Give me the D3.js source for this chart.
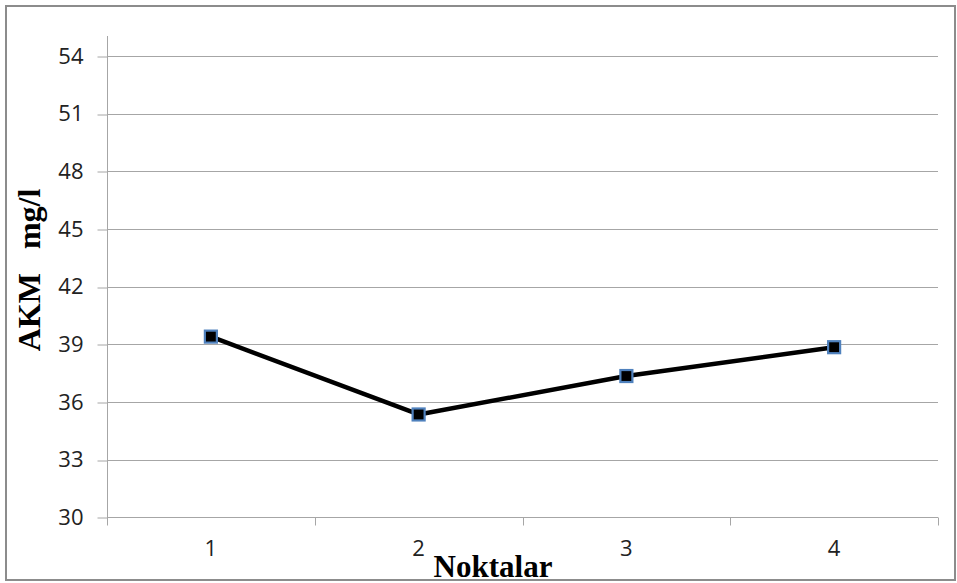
<!DOCTYPE html>
<html><head><meta charset="utf-8">
<script src="https://cdn.jsdelivr.net/npm/d3@7"></script>
<style>
html,body{margin:0;padding:0;background:#fff;}
svg{display:block;}
</style></head>
<body>
<script>
const categories = ["1", "2", "3", "4"];
const values = [39.4, 35.35, 37.35, 38.85];
const yTicks = [30, 33, 36, 39, 42, 45, 48, 51, 54];
const yTitle = "AKM   mg/l";
const xTitle = "Noktalar";

(function () {
const W = 957, H = 583;
const svg = d3.select("body").append("svg").attr("width", W).attr("height", H);

svg.append("rect").attr("x", 6).attr("y", 6).attr("width", W - 8).attr("height", H - 9)
  .attr("fill", "#fff").attr("stroke", "#8c8c8c").attr("stroke-width", 2);

const pLeft = 107, pRight = 938, pTop = 36, pBottom = 517.3;
const x = d3.scaleBand().domain(categories).range([pLeft, pRight]).padding(0);
const y = d3.scaleLinear().domain([30, 54]).range([pBottom, 56]);

// gridlines
svg.append("g").selectAll("line").data(yTicks.slice(1)).join("line")
  .attr("x1", pLeft).attr("x2", pRight)
  .attr("y1", d => Math.round(y(d)) + 0.5).attr("y2", d => Math.round(y(d)) + 0.5)
  .attr("stroke", "#a6a6a6").attr("stroke-width", 1);

// y axis
const yAxis = svg.append("g").attr("transform", `translate(${pLeft + 0.5},0)`)
  .call(d3.axisLeft(y).tickValues(yTicks).tickSize(10).tickPadding(14));
yAxis.select(".domain").remove();
yAxis.append("line").attr("x1", 0).attr("x2", 0).attr("y1", pTop).attr("y2", pBottom + 0.5)
  .attr("stroke", "#a6a6a6");
yAxis.selectAll(".tick line").attr("stroke", "#a6a6a6")
  .attr("transform", d => `translate(0,${Math.round(y(d)) + 0.5 - y(d)})`);
yAxis.selectAll("text").attr("font-family", "'Open Sans', sans-serif").attr("font-size", 22)
  .attr("fill", "#222");

// x axis
const xAxis = svg.append("g").attr("transform", `translate(0,${Math.round(pBottom) + 0.5})`)
  .call(d3.axisBottom(x).tickSize(0).tickPadding(23));
xAxis.select(".domain").attr("stroke", "#a6a6a6").attr("d", `M${pLeft},0H${pRight}`);
xAxis.selectAll("text").attr("font-family", "'Open Sans', sans-serif").attr("font-size", 22)
  .attr("fill", "#222");
const bounds = categories.map(c => x(c)).concat([x(categories[categories.length - 1]) + x.bandwidth()]);
xAxis.selectAll(".cat-tick").data(bounds).join("line").attr("class", "cat-tick")
  .attr("x1", d => Math.round(d) + 0.5).attr("x2", d => Math.round(d) + 0.5)
  .attr("y1", 0).attr("y2", 8).attr("stroke", "#a6a6a6");

// line
const line = d3.line().x((d, i) => x(categories[i]) + x.bandwidth() / 2).y(d => y(d));
svg.append("path").datum(values).attr("d", line).attr("fill", "none")
  .attr("stroke", "#000").attr("stroke-width", 4.5).attr("stroke-linejoin", "round");

// markers
svg.append("g").selectAll("rect").data(values).join("rect")
  .attr("x", (d, i) => x(categories[i]) + x.bandwidth() / 2 - 6)
  .attr("y", d => y(d) - 6)
  .attr("width", 12).attr("height", 12)
  .attr("fill", "#000").attr("stroke", "#4f81bd").attr("stroke-width", 2.2);

// titles
svg.append("text").attr("x", 493).attr("y", 577).attr("text-anchor", "middle")
  .attr("font-family", "'Liberation Serif', serif").attr("font-weight", "bold")
  .attr("font-size", 31).attr("fill", "#000").text(xTitle);

svg.append("text").attr("transform", "translate(40,270) rotate(-90)")
  .attr("text-anchor", "middle").style("white-space", "pre")
  .attr("font-family", "'Liberation Serif', serif").attr("font-weight", "bold")
  .attr("font-size", 32).attr("fill", "#000").text(yTitle);
})();
</script>
</body></html>
